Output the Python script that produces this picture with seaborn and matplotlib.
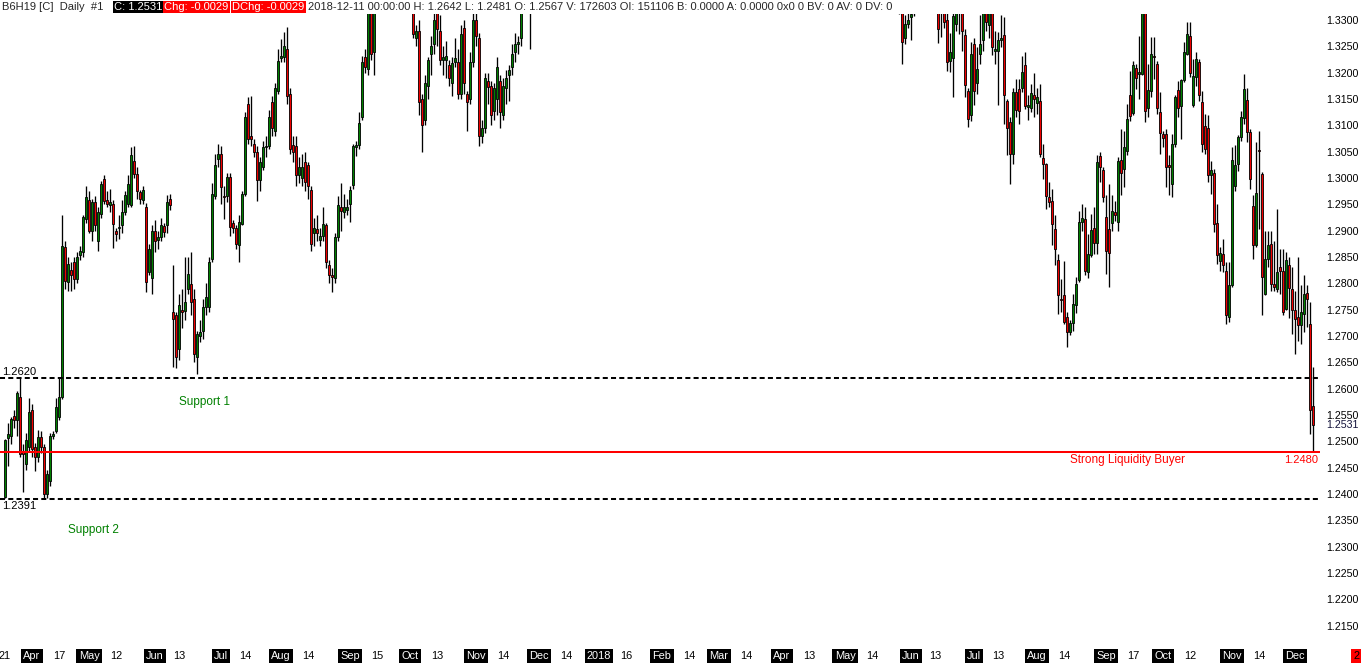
import numpy as np
import pandas as pd
import matplotlib
matplotlib.use("Agg")
import matplotlib.pyplot as plt
import matplotlib.transforms as mtransforms
import seaborn as sns

# ============================================
# DATA  (B6H19 daily bars, 2017-03-21 .. 2018-12-11)
# ============================================

first_day = "2017-03-21"
last_day = "2018-12-11"
# sessions without a daily bar on this chart
closed_days = ["2017-04-14", "2017-05-29", "2017-07-04", "2017-09-04", "2017-11-23",
               "2017-12-25", "2018-01-01", "2018-01-15", "2018-02-19", "2018-03-30",
               "2018-05-28", "2018-07-04", "2018-09-03", "2018-11-22"]

# day numbers printed on the time axis
day_ticks = ["2017-03-21", "2017-04-17", "2017-05-12", "2017-06-13", "2017-07-14",
             "2017-08-14", "2017-09-15", "2017-10-13", "2017-11-14", "2017-12-14",
             "2018-01-16", "2018-02-14", "2018-03-14", "2018-04-13", "2018-05-14",
             "2018-06-13", "2018-07-13", "2018-08-14", "2018-09-17", "2018-10-12",
             "2018-11-14"]

# prices in pips above 1.0000  (2620 -> 1.2620)
opens = [
    2394, 2507, 2510, 2548, 2540, 2584, 2482, 2457, 2489, 2560,
    2489, 2470, 2508, 2489, 2400, 2425, 2511, 2520, 2546, 2584,
    2869, 2802, 2825, 2840, 2809, 2853, 2860, 2922, 2959, 2900,
    2955, 2881, 2932, 2998, 2958, 2948, 2950, 2900, 2906, 2910,
    2935, 2950, 2948, 3033, 3008, 2973, 2958, 2945, 2822, 2810,
    2900, 2882, 2888, 2908, 2910, 2960, 2745, 2739, 2676, 2750,
    2748, 2790, 2799, 2770, 2660, 2700, 2710, 2755, 2755, 2847,
    2965, 3036, 3046, 2965, 2965, 3002, 2915, 2905, 2872, 2913,
    2970, 3140, 3080, 3065, 3050, 2997, 3021, 3058, 3060, 3145,
    3090, 3165, 3228, 3230, 3245, 3160, 3062, 3060, 3006, 3000,
    3030, 3025, 2977, 2895, 2904, 2882, 2890, 2910, 2834, 2815,
    2810, 2888, 2945, 2935, 2940, 2950, 2986, 3058, 3063, 3116,
    3230, 3207, 3325, 3240, 3345, 3410, 3470, 3505, 3540, 3600,
    3580, 3540, 3560, 3500, 3440, 3400, 3340, 3265, 3280, 3150,
    3110, 3175, 3235, 3255, 3320, 3280, 3225, 3225, 3215, 3180,
    3220, 3220, 3160, 3285, 3160, 3150, 3220, 3300, 3266, 3080,
    3095, 3185, 3175, 3128, 3150, 3185, 3120, 3170, 3195, 3210,
    3240, 3255, 3265, 3320, 3360, 3340, 3330, 3400, 3460, 3420,
    3480, 3500, 3450, 3470, 3430, 3440, 3400, 3420, 3460, 3480,
    3430, 3410, 3440, 3450, 3430, 3420, 3440, 3470, 3520, 3560,
    3600, 3620, 3610, 3660, 3640, 3620, 3700, 3780, 3820, 3860,
    3920, 3990, 4060, 4120, 4150, 4180, 4250, 4330, 4300, 4260,
    4280, 4250, 4200, 4150, 4100, 4020, 3980, 4000, 4030, 4060,
    4100, 4050, 4080, 4140, 4120, 4060, 4040, 4060, 4020, 4000,
    3980, 4020, 4050, 4080, 4060, 4030, 4070, 4100, 4130, 4120,
    4080, 4060, 4090, 4140, 4180, 4220, 4200, 4230, 4250, 4220,
    4190, 4160, 4180, 4210, 4230, 4200, 4240, 4300, 4330, 4380,
    4420, 4440, 4460, 4420, 4350, 4300, 4250, 4200, 4150, 4120,
    4080, 4050, 4000, 3960, 3950, 3920, 3880, 3840, 3830, 3850,
    3800, 3760, 3700, 3650, 3620, 3600, 3520, 3460, 3400, 3340,
    3266, 3293, 3305, 3320, 3340, 3360, 3380, 3400, 3420, 3410,
    3390, 3370, 3320, 3325, 3300, 3223, 3228, 3292, 3330, 3325,
    3272, 3166, 3119, 3255, 3180, 3235, 3262, 3330, 3290, 3320,
    3241, 3241, 3262, 3272, 3147, 3106, 3046, 3163, 3169, 3171,
    3214, 3134, 3132, 3157, 3143, 3147, 3038, 3026, 2964, 2957,
    2904, 2845, 2771, 2777, 2737, 2707, 2724, 2758, 2807, 2916,
    2923, 2821, 2854, 2905, 2876, 3041, 3016, 2926, 2904, 2914,
    2935, 2916, 3035, 3017, 3052, 3158, 3123, 3209, 3198, 3197,
    3320, 3133, 3166, 3231, 3216, 3126, 3083, 3083, 3024, 2989,
    3064, 3168, 3136, 3187, 3236, 3269, 3138, 3192, 3220, 3144,
    3098, 3095, 3005, 3009, 2914, 2843, 2856, 2824, 2736, 2796,
    2985, 3027, 3078, 3113, 3149, 3087, 2947, 2872, 3053, 3007,
    2780, 2847, 2875, 2799, 2790, 2831, 2823, 2752, 2834, 2790,
    2749, 2736, 2720, 2742, 2781, 2723, 2567,
]
highs = [
    2505, 2535, 2547, 2560, 2595, 2620, 2495, 2515, 2583, 2570,
    2497, 2522, 2520, 2495, 2445, 2515, 2520, 2583, 2620, 2929,
    2880, 2850, 2840, 2850, 2860, 2870, 2930, 2985, 2975, 2960,
    2965, 2945, 2995, 3005, 2975, 2980, 2958, 2905, 2930, 2958,
    2975, 3005, 3059, 3060, 3020, 2978, 2985, 2952, 2875, 2910,
    2920, 2900, 2925, 2915, 2968, 2970, 2834, 2745, 2780, 2790,
    2850, 2850, 2860, 2790, 2710, 2730, 2770, 2800, 2850, 2990,
    3045, 3065, 3060, 2985, 3010, 3010, 2920, 2910, 2930, 2975,
    3125, 3154, 3155, 3075, 3060, 3040, 3070, 3080, 3130, 3155,
    3180, 3245, 3264, 3277, 3287, 3170, 3080, 3080, 3040, 3045,
    3050, 3030, 2985, 2925, 2930, 2905, 2945, 2915, 2845, 2830,
    2895, 2965, 2990, 2970, 2960, 2985, 3065, 3070, 3125, 3232,
    3245, 3345, 3350, 3370, 3420, 3480, 3520, 3560, 3620, 3640,
    3600, 3580, 3570, 3520, 3470, 3420, 3360, 3290, 3300, 3160,
    3195, 3230, 3270, 3340, 3345, 3310, 3250, 3260, 3225, 3230,
    3265, 3245, 3290, 3300, 3165, 3240, 3320, 3330, 3275, 3110,
    3200, 3200, 3185, 3180, 3230, 3195, 3190, 3205, 3215, 3255,
    3275, 3270, 3340, 3380, 3400, 3370, 3410, 3475, 3470, 3495,
    3515, 3510, 3485, 3480, 3455, 3450, 3435, 3475, 3495, 3490,
    3440, 3455, 3465, 3460, 3440, 3455, 3485, 3535, 3575, 3615,
    3640, 3635, 3675, 3670, 3650, 3715, 3795, 3835, 3875, 3935,
    4005, 4075, 4135, 4165, 4195, 4265, 4345, 4340, 4315, 4295,
    4290, 4260, 4210, 4160, 4110, 4030, 4015, 4045, 4075, 4115,
    4110, 4095, 4155, 4150, 4130, 4070, 4075, 4070, 4030, 4010,
    4035, 4065, 4095, 4090, 4070, 4085, 4115, 4145, 4140, 4130,
    4090, 4105, 4155, 4195, 4235, 4230, 4245, 4265, 4260, 4230,
    4200, 4195, 4225, 4245, 4240, 4255, 4315, 4345, 4395, 4435,
    4455, 4475, 4470, 4430, 4360, 4310, 4260, 4210, 4160, 4130,
    4090, 4060, 4010, 3975, 3960, 3930, 3890, 3855, 3865, 3860,
    3810, 3770, 3710, 3660, 3630, 3610, 3530, 3470, 3410, 3350,
    3310, 3315, 3325, 3350, 3375, 3395, 3415, 3435, 3430, 3420,
    3400, 3380, 3350, 3345, 3320, 3275, 3320, 3340, 3360, 3340,
    3283, 3170, 3258, 3265, 3248, 3310, 3340, 3340, 3330, 3335,
    3280, 3277, 3310, 3305, 3150, 3115, 3171, 3188, 3188, 3231,
    3240, 3157, 3179, 3200, 3170, 3178, 3064, 3028, 2992, 2980,
    2929, 2856, 2809, 2843, 2745, 2730, 2780, 2813, 2938, 2950,
    2945, 2894, 2932, 2945, 3043, 3049, 3021, 2967, 2989, 2967,
    2957, 3040, 3093, 3090, 3141, 3204, 3223, 3217, 3269, 3340,
    3340, 3217, 3268, 3268, 3223, 3163, 3090, 3093, 3043, 3084,
    3157, 3185, 3188, 3258, 3296, 3296, 3226, 3240, 3226, 3166,
    3122, 3119, 3033, 3017, 2951, 2869, 2885, 2840, 2840, 3059,
    3062, 3081, 3128, 3198, 3171, 3093, 2967, 3068, 3090, 3011,
    2900, 2900, 2900, 2881, 2942, 2866, 2866, 2859, 2850, 2831,
    2786, 2850, 2796, 2815, 2796, 2764, 2642,
]
lows = [
    2392, 2454, 2495, 2525, 2510, 2470, 2404, 2445, 2480, 2470,
    2444, 2460, 2478, 2391, 2393, 2415, 2505, 2515, 2540, 2580,
    2790, 2785, 2785, 2790, 2800, 2845, 2850, 2915, 2895, 2880,
    2900, 2862, 2925, 2950, 2945, 2935, 2868, 2880, 2885, 2895,
    2930, 2945, 2945, 3000, 2960, 2950, 2950, 2783, 2815, 2780,
    2860, 2865, 2880, 2888, 2895, 2940, 2641, 2640, 2655, 2715,
    2730, 2780, 2740, 2650, 2628, 2688, 2695, 2740, 2745, 2840,
    2960, 3020, 2950, 2923, 2955, 2890, 2895, 2865, 2840, 2910,
    2965, 3065, 3060, 3040, 2957, 2975, 3015, 3040, 3055, 3080,
    3080, 3160, 3220, 3220, 3140, 3045, 3030, 2985, 2990, 2985,
    2975, 2960, 2862, 2870, 2880, 2870, 2880, 2830, 2800, 2783,
    2800, 2880, 2900, 2925, 2930, 2917, 2980, 3042, 3055, 3110,
    3200, 3195, 3225, 3195, 3330, 3390, 3440, 3480, 3520, 3560,
    3520, 3500, 3480, 3420, 3380, 3330, 3265, 3250, 3120, 3049,
    3100, 3150, 3195, 3235, 3250, 3215, 3195, 3190, 3175, 3155,
    3210, 3150, 3150, 3160, 3090, 3140, 3210, 3250, 3060, 3067,
    3085, 3140, 3100, 3110, 3120, 3095, 3110, 3140, 3147, 3195,
    3220, 3235, 3250, 3316, 3318, 3244, 3320, 3385, 3405, 3410,
    3465, 3435, 3440, 3415, 3420, 3385, 3390, 3410, 3450, 3415,
    3395, 3400, 3430, 3415, 3405, 3410, 3430, 3460, 3510, 3550,
    3585, 3595, 3600, 3625, 3605, 3610, 3690, 3770, 3810, 3850,
    3910, 3980, 4050, 4105, 4135, 4170, 4240, 4285, 4245, 4250,
    4235, 4185, 4135, 4085, 4005, 3965, 3970, 3990, 4020, 4050,
    4035, 4040, 4070, 4105, 4045, 4025, 4030, 4005, 3985, 3965,
    3970, 4010, 4040, 4045, 4015, 4020, 4060, 4090, 4105, 4065,
    4045, 4050, 4080, 4130, 4170, 4185, 4190, 4220, 4205, 4175,
    4145, 4150, 4170, 4200, 4185, 4190, 4230, 4290, 4320, 4370,
    4410, 4430, 4405, 4335, 4285, 4235, 4185, 4135, 4105, 4065,
    4035, 3985, 3945, 3935, 3905, 3865, 3825, 3815, 3820, 3785,
    3745, 3685, 3635, 3605, 3585, 3505, 3445, 3385, 3312, 3217,
    3255, 3285, 3262, 3307, 3325, 3350, 3370, 3390, 3395, 3380,
    3355, 3256, 3267, 3284, 3204, 3201, 3154, 3280, 3274, 3242,
    3154, 3097, 3109, 3138, 3160, 3217, 3242, 3280, 3265, 3233,
    3217, 3138, 3248, 3103, 3043, 2989, 3027, 3116, 3103, 3163,
    3131, 3111, 3125, 3116, 3122, 3040, 2999, 2942, 2945, 2872,
    2834, 2742, 2745, 2722, 2679, 2701, 2710, 2743, 2802, 2900,
    2815, 2810, 2850, 2856, 2856, 2992, 2954, 2818, 2793, 2900,
    2919, 2900, 2967, 2983, 3043, 3109, 3119, 3169, 3150, 3195,
    3106, 3116, 3154, 3188, 3122, 3046, 3059, 2983, 2967, 2964,
    3059, 3116, 3074, 3182, 3233, 3192, 3135, 3175, 3147, 3049,
    3046, 2993, 2970, 2897, 2837, 2824, 2821, 2723, 2726, 2793,
    2976, 3014, 3071, 3103, 3068, 2980, 2847, 2869, 2903, 2739,
    2777, 2831, 2786, 2786, 2784, 2780, 2739, 2749, 2734, 2704,
    2666, 2691, 2685, 2707, 2717, 2514, 2481,
]
closes = [
    2503, 2514, 2543, 2540, 2592, 2476, 2476, 2502, 2555, 2486,
    2470, 2508, 2489, 2400, 2438, 2511, 2514, 2566, 2584, 2870,
    2805, 2837, 2815, 2809, 2850, 2862, 2926, 2964, 2900, 2955,
    2910, 2935, 2989, 2957, 2950, 2955, 2913, 2894, 2907, 2935,
    2967, 2989, 3043, 3008, 2976, 2960, 2977, 2802, 2866, 2900,
    2881, 2888, 2910, 2898, 2954, 2948, 2733, 2660, 2758, 2745,
    2765, 2817, 2764, 2665, 2704, 2708, 2756, 2775, 2840, 2970,
    3024, 3046, 2983, 2963, 3002, 2907, 2905, 2875, 2916, 2970,
    3116, 3075, 3074, 3050, 2997, 3030, 3058, 3060, 3116, 3095,
    3170, 3222, 3232, 3250, 3155, 3055, 3050, 3006, 3021, 3020,
    2993, 2985, 2875, 2905, 2895, 2890, 2912, 2840, 2815, 2812,
    2888, 2948, 2938, 2945, 2945, 2978, 3061, 3062, 3104, 3221,
    3210, 3330, 3235, 3345, 3410, 3470, 3505, 3540, 3600, 3580,
    3540, 3560, 3500, 3440, 3400, 3345, 3274, 3280, 3145, 3100,
    3180, 3225, 3250, 3300, 3283, 3225, 3230, 3232, 3190, 3218,
    3228, 3160, 3274, 3180, 3145, 3220, 3300, 3270, 3080, 3095,
    3190, 3172, 3120, 3170, 3211, 3125, 3175, 3190, 3205, 3235,
    3255, 3258, 3320, 3360, 3340, 3330, 3400, 3460, 3420, 3480,
    3500, 3450, 3470, 3430, 3440, 3400, 3420, 3460, 3480, 3430,
    3410, 3440, 3450, 3430, 3420, 3440, 3470, 3520, 3560, 3600,
    3620, 3610, 3660, 3640, 3620, 3700, 3780, 3820, 3860, 3920,
    3990, 4060, 4120, 4150, 4180, 4250, 4330, 4300, 4260, 4280,
    4250, 4200, 4150, 4100, 4020, 3980, 4000, 4030, 4060, 4100,
    4050, 4080, 4140, 4120, 4060, 4040, 4060, 4020, 4000, 3980,
    4020, 4050, 4080, 4060, 4030, 4070, 4100, 4130, 4120, 4080,
    4060, 4090, 4140, 4180, 4220, 4200, 4230, 4250, 4220, 4190,
    4160, 4180, 4210, 4230, 4200, 4240, 4300, 4330, 4380, 4420,
    4440, 4460, 4420, 4350, 4300, 4250, 4200, 4150, 4120, 4080,
    4050, 4000, 3960, 3950, 3920, 3880, 3840, 3830, 3850, 3800,
    3760, 3700, 3650, 3620, 3600, 3520, 3460, 3400, 3340, 3258,
    3292, 3300, 3312, 3340, 3360, 3380, 3400, 3420, 3410, 3390,
    3370, 3283, 3330, 3297, 3220, 3239, 3307, 3325, 3340, 3280,
    3176, 3112, 3236, 3166, 3207, 3255, 3320, 3296, 3315, 3248,
    3245, 3262, 3266, 3157, 3095, 3046, 3163, 3130, 3128, 3201,
    3136, 3138, 3161, 3150, 3153, 3046, 3027, 2965, 2955, 2913,
    2866, 2778, 2769, 2726, 2707, 2724, 2761, 2798, 2916, 2924,
    2823, 2856, 2902, 2876, 3030, 3021, 2964, 2861, 2857, 2937,
    2929, 3033, 3009, 3059, 3112, 3118, 3214, 3190, 3201, 3320,
    3128, 3168, 3236, 3230, 3133, 3085, 3076, 3021, 3020, 3065,
    3154, 3133, 3187, 3239, 3273, 3199, 3193, 3226, 3157, 3065,
    3056, 3005, 3016, 2913, 2853, 2857, 2834, 2739, 2796, 3035,
    3024, 3078, 3116, 3169, 3087, 2999, 2872, 2971, 3051, 2812,
    2846, 2872, 2799, 2794, 2821, 2823, 2745, 2845, 2792, 2750,
    2733, 2720, 2745, 2780, 2771, 2560, 2531,
]

# levels drawn on the chart
support_1 = 1.2620
support_2 = 1.2391
buyer_level = 1.2480
last_close = 1.2531

header_text = ("2018-12-11 00:00:00 H: 1.2642 L: 1.2481 O: 1.2567 V: 172603 "
               "OI: 151106 B: 0.0000 A: 0.0000 0x0 0 BV: 0 AV: 0 DV: 0")

GREEN = "#008000"
RED = "#f00000"

# ============================================
# BUILD FRAME
# ============================================

dates = pd.bdate_range(first_day, last_day, freq="C", holidays=closed_days)
n = min(len(dates), len(closes))
df = pd.DataFrame({
    "date": dates[:n],
    "open": 1 + np.array(opens[:n]) / 10000,
    "high": 1 + np.array(highs[:n]) / 10000,
    "low": 1 + np.array(lows[:n]) / 10000,
    "close": 1 + np.array(closes[:n]) / 10000,
})
df["x"] = np.arange(n)
df["up"] = df["close"] >= df["open"]

# ============================================
# PLOT
# ============================================

sns.set_theme(style="white")
plt.rcParams["font.family"] = ["Liberation Sans", "DejaVu Sans"]

W, H = 1362, 664
fig = plt.figure(figsize=(W / 100, H / 100), dpi=100)
ax = fig.add_axes([0, (H - 645) / H, 1320 / W, (645 - 14) / H])

# price scale of the reference: 1.3300 at y=20px, 5267 px per 1.0
ppu = 5267
ax.set_ylim(1.3300 - (645 - 20) / ppu, 1.3300 + (20 - 14) / ppu)
ax.set_xlim(-5 / 3, 1315 / 3)

# wicks + bodies
ax.vlines(df["x"], df["low"], df["high"], color="black", lw=0.95, zorder=2)
body_lo = df[["open", "close"]].min(axis=1)
body_h = (df["close"] - df["open"]).abs()
ax.bar(df["x"], body_h, bottom=body_lo, width=0.88,
       color=np.where(df["up"], GREEN, RED), edgecolor="black",
       linewidth=0.6, zorder=3)

# levels
ax.axhline(support_1, color="black", lw=1.45, ls=(0, (2.5, 1.6)), zorder=4)
ax.axhline(support_2, color="black", lw=1.45, ls=(0, (2.5, 1.6)), zorder=4)
ax.axhline(buyer_level, color="#ff0000", lw=1.45, zorder=4)

px = 1 / ppu
left_tr = mtransforms.blended_transform_factory(ax.transAxes, ax.transData)
ax.text(2 / 1320, support_1 + 1.5 * px, f"{support_1:.4f}", transform=left_tr,
        ha="left", va="bottom", fontsize=8, color="black")
ax.text(2 / 1320, support_2 - 2 * px, f"{support_2:.4f}", transform=left_tr,
        ha="left", va="top", fontsize=8, color="black")
ax.text((179 - 5) / 3, 1.3300 - (402 - 20) * px, "Support 1",
        ha="left", va="center", fontsize=8.5, color=GREEN)
ax.text((68 - 5) / 3, 1.3300 - (530 - 20) * px, "Support 2",
        ha="left", va="center", fontsize=8.5, color=GREEN)
ax.text((1070 - 5) / 3, 1.3300 - (460 - 20) * px, "Strong Liquidity Buyer",
        ha="left", va="center", fontsize=8.5, color="#ff0000")
ax.text((1318 - 5) / 3, 1.3300 - (460 - 20) * px, f"{buyer_level:.4f}",
        ha="right", va="center", fontsize=8, color="#ff0000")

# price axis on the right
yticks = np.round(np.arange(1.2150, 1.33001, 0.005), 4)
ax.yaxis.tick_right()
ax.set_yticks(yticks)
ax.set_yticklabels([f"{t:.4f}" for t in yticks])
ax.tick_params(axis="y", length=0, pad=4.3, labelsize=7.7, colors="black")
ax.text(1.0 + 6 / 1320, last_close, f"{last_close:.4f}", transform=left_tr,
        ha="left", va="center", fontsize=7.7, color="#14143c",
        bbox=dict(boxstyle="square,pad=0.05", fc="white", ec="none"))

# time axis: month boxes + day numbers
ax.set_xticks([])
for s in ax.spines.values():
    s.set_visible(False)

xlab = mtransforms.blended_transform_factory(ax.transData, fig.transFigure)
ylab = (H - 656) / H
month_first = df.groupby([df["date"].dt.year, df["date"].dt.month])["x"].min()
for (yr, mo), xi in month_first.items():
    if xi == 0:
        continue
    label = str(yr) if mo == 1 else pd.Timestamp(year=yr, month=mo, day=1).strftime("%b")
    ax.text(xi, ylab, label, transform=xlab, ha="center", va="center",
            fontsize=7.9, color="white",
            bbox=dict(boxstyle="square,pad=0.2", fc="black", ec="none"))
pos = dict(zip(df["date"].dt.strftime("%Y-%m-%d"), df["x"]))
for d in day_ticks:
    if d in pos:
        ax.text(pos[d], ylab, str(int(d[-2:])), transform=xlab, ha="center",
                va="center", fontsize=7.9, color="black")
fig.text(1356 / W, ylab, "2", ha="center", va="center", fontsize=7.9, color="black",
         bbox=dict(boxstyle="square,pad=0.2", fc="#ff0000", ec="none"))

# header line
hy = (H - 7) / H
fig.text(2 / W, hy, "B6H19 [C]  Daily  #1", ha="left", va="center", fontsize=8)
fig.text(114 / W, hy, f"C: {last_close:.4f}", ha="left", va="center", fontsize=8,
         color="white", bbox=dict(boxstyle="square,pad=0.12", fc="black", ec="none"))
fig.text(164 / W, hy, "Chg: -0.0029", ha="left", va="center", fontsize=8,
         color="white", bbox=dict(boxstyle="square,pad=0.12", fc="#ff0000", ec="none"))
fig.text(232 / W, hy, "DChg: -0.0029", ha="left", va="center", fontsize=8,
         color="white", bbox=dict(boxstyle="square,pad=0.12", fc="#ff0000", ec="none"))
fig.text(308 / W, hy, header_text, ha="left", va="center", fontsize=8)

fig.savefig("out.png", dpi=100, facecolor="white")
